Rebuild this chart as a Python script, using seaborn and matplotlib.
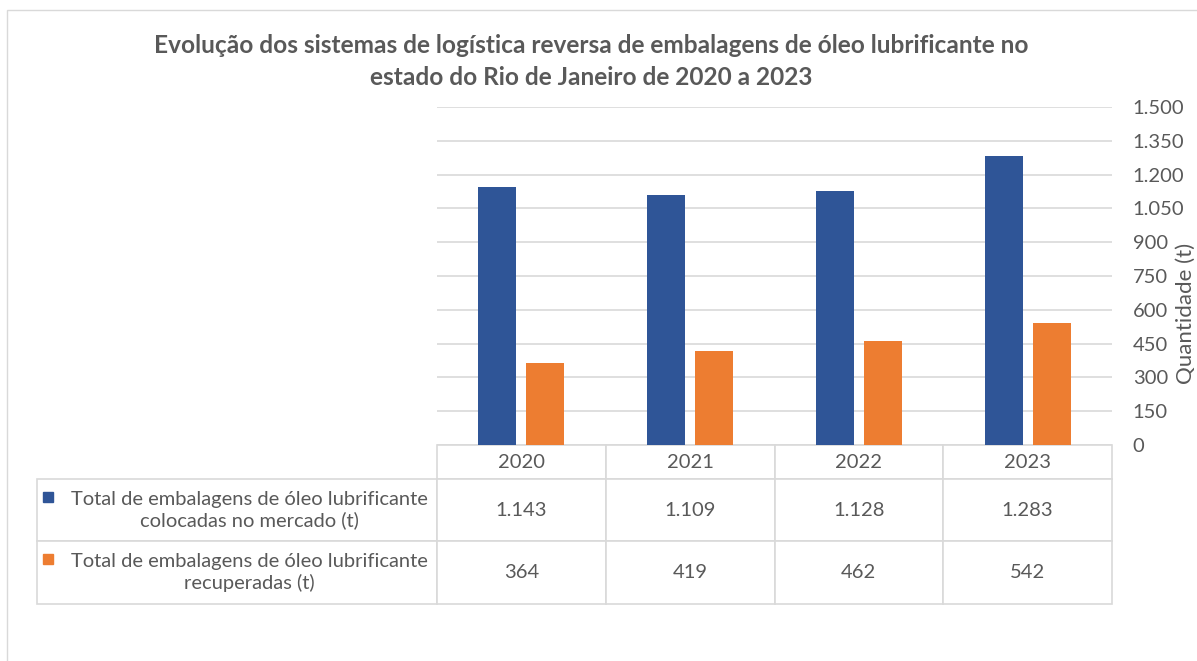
import pandas as pd
import matplotlib
matplotlib.use("Agg")
import matplotlib.pyplot as plt
from matplotlib.patches import Rectangle
from matplotlib.ticker import FuncFormatter, MultipleLocator
import seaborn as sns

# Data
anos = ["2020", "2021", "2022", "2023"]
colocadas = [1143, 1109, 1128, 1283]
recuperadas = [364, 419, 462, 542]
series = ["Total de embalagens de óleo lubrificante\ncolocadas no mercado (t)",
          "Total de embalagens de óleo lubrificante\nrecuperadas (t)"]
cores = ["#2F5597", "#ED7D31"]

df = pd.DataFrame({
    "ano": anos * 2,
    "valor": colocadas + recuperadas,
    "serie": [series[0]] * 4 + [series[1]] * 4,
})


def br(v, pos=None):
    return f"{int(v):,}".replace(",", ".")


sns.set_style("white")
plt.rcParams["font.family"] = ["Lato", "DejaVu Sans"]
cinza = "#595959"
linha = "#d9d9d9"

W, H = 1197, 661
fig = plt.figure(figsize=(W / 100, H / 100), dpi=100)
ax = fig.add_axes([437 / W, 1 - 445 / H, 675 / W, 338 / H])

sns.barplot(data=df, x="ano", y="valor", hue="serie", palette=cores, saturation=1,
            width=0.569, gap=0.208, linewidth=0, legend=False, ax=ax)

ax.set_xlim(-0.5, 3.5)
ax.set_ylim(0, 1500)
ax.yaxis.set_major_locator(MultipleLocator(150))
ax.yaxis.set_major_formatter(FuncFormatter(br))
ax.yaxis.tick_right()
ax.tick_params(axis="y", length=0, labelsize=14.5, labelcolor=cinza, pad=15)
ax.set_xticks([])
ax.set_xlabel("")
ax.set_ylabel("Quantidade (t)", fontsize=16, color=cinza, rotation=90)
ax.yaxis.set_label_position("right")
ax.yaxis.set_label_coords(1.094, 0.39)
ax.grid(axis="y", color=linha, linewidth=1.2)
ax.set_axisbelow(True)
for s in ax.spines.values():
    s.set_visible(False)

# Data table
cell_text = [[series[0]] + [br(v) for v in colocadas],
             [series[1]] + [br(v) for v in recuperadas]]
tbl = ax.table(cellText=cell_text, colLabels=[""] + anos, cellLoc="center",
               bbox=[(37 - 437) / 675, (445 - 604) / 338, (1112 - 37) / 675, (604 - 445) / 338])
tbl.auto_set_font_size(False)
tbl.set_fontsize(14.5)
alturas = {0: 34, 1: 62, 2: 63}
for (r, c), cell in tbl.get_celld().items():
    cell.set_height(alturas[r])
    cell.set_width(400 if c == 0 else 168.75)
    cell.set_edgecolor(linha)
    cell.set_linewidth(1.2)
    cell.get_text().set_color(cinza)
    if c == 0 and r > 0:
        cell._loc = "right"
        cell.PAD = 0.0225
        cell.get_text().set_horizontalalignment("right")
        cell.get_text().set_multialignment("center")
        cell.get_text().set_linespacing(1.2)
tbl[0, 0].visible_edges = "open"

# legend keys in the table
for i, cor in enumerate(cores):
    y_top = [492, 554][i]
    ax.add_patch(Rectangle(((43 - 437) / 675, (445 - y_top - 10) / 338), 10 / 675, 10 / 338,
                           transform=ax.transAxes, color=cor, clip_on=False))

fig.text(591 / W, 1 - 61.5 / H,
         "Evolução dos sistemas de logística reversa de embalagens de óleo lubrificante no\n"
         "estado do Rio de Janeiro de 2020 a 2023",
         ha="center", va="center", fontsize=17.6, fontweight="bold", color=cinza,
         linespacing=1.45)

fig.add_artist(Rectangle((7 / W, -0.1), 1.2, 1 - 10 / H + 0.1, transform=fig.transFigure,
                         fill=False, edgecolor=linha, linewidth=1))

fig.savefig("out.png", dpi=100)
